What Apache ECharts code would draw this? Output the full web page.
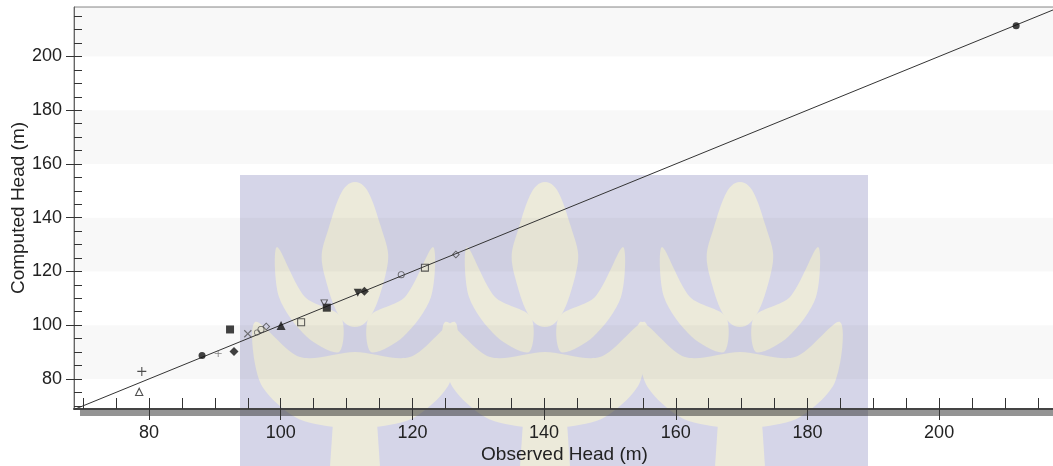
<!DOCTYPE html>
<html><head><meta charset="utf-8">
<script src="https://cdn.jsdelivr.net/npm/echarts@6/dist/echarts.min.js"></script>
<style>html,body{margin:0;padding:0;background:#fff}#c{width:1053px;height:466px}</style>
</head><body><div id="c"></div>
<script>
// ---- data ----
const observed = [78.5, 78.9, 88.05, 90.5, 92.3, 92.9, 95.0, 96.4, 97.0, 97.8, 100.05, 103.1, 107.0, 106.6, 111.7, 112.7, 118.3, 121.9, 126.6, 211.7];
const computed = [75.35, 82.8, 88.7, 89.5, 98.4, 90.2, 96.8, 97.3, 98.4, 99.5, 99.9, 101.1, 106.5, 108.1, 112.1, 112.6, 118.8, 121.4, 126.3, 211.4];
const markerKinds = ['openTriangle', 'plus', 'circle', 'plusSmall', 'square', 'diamond', 'cross', 'openCircleSmall', 'openCircle', 'openDiamond', 'triangle', 'openSquare', 'square', 'openTriangleDown', 'triangleDown', 'diamond', 'openCircle', 'openSquare', 'openDiamond', 'circle'];
const oneToOneExtent = [68.6, 217.6];
const xRange = [68.6, 217.6];
const yRange = [68.8, 218.4];
const majorTicks = [80, 100, 120, 140, 160, 180, 200];
const minorTicksX = [70, 75, 80, 85, 90, 95, 100, 105, 110, 115, 120, 125, 130, 135, 140, 145, 150, 155, 160, 165, 170, 175, 180, 185, 190, 195, 200, 205, 210, 215];
const minorTicksY = [70, 75, 80, 85, 90, 95, 100, 105, 110, 115, 120, 125, 130, 135, 140, 145, 150, 155, 160, 165, 170, 175, 180, 185, 190, 195, 200, 205, 210, 215];

// ---- marker styles ----
const P = {
  plus: 'path://M4.4,0H5.6V4.4H10V5.6H5.6V10H4.4V5.6H0V4.4H4.4Z',
  oTri: 'path://M5,0L10,10L0,10Z M5,2.8L1.9,8.9L8.1,8.9Z',
  oTriDown: 'path://M0,0H10L5,10Z M1.9,1.1L5,7.2L8.1,1.1Z',
  oSq: 'path://M0,0H10V10H0Z M1.3,1.3V8.7H8.7V1.3Z',
  oDia: 'path://M5,0L10,5L5,10L0,5Z M5,1.7L1.7,5L5,8.3L8.3,5Z',
  oCir: 'path://M5,0A5,5 0 1 1 5,10A5,5 0 1 1 5,0Z M5,1.3A3.7,3.7 0 1 0 5,8.7A3.7,3.7 0 1 0 5,1.3Z'
};
const markerStyle = {
  openTriangle: {symbol: P.oTri, size: 9, color: '#222'},
  openTriangleDown: {symbol: P.oTriDown, size: 8, color: '#333'},
  plus: {symbol: P.plus, size: 9, color: '#222'},
  plusSmall: {symbol: P.plus, size: 7, color: '#666'},
  cross: {symbol: P.plus, size: 10, color: '#555', rotate: 45},
  circle: {symbol: 'circle', size: 7, color: '#111'},
  square: {symbol: 'rect', size: 8, color: '#111'},
  diamond: {symbol: 'diamond', size: 9, color: '#111'},
  triangle: {symbol: 'triangle', size: 9, color: '#111'},
  triangleDown: {symbol: 'triangle', size: 8, color: '#111', rotate: 180},
  openSquare: {symbol: P.oSq, size: 8, color: '#333'},
  openDiamond: {symbol: P.oDia, size: 8, color: '#444'},
  openCircle: {symbol: P.oCir, size: 7, color: '#444'},
  openCircleSmall: {symbol: P.oCir, size: 6, color: '#555'}
};

const points = observed.map((x, i) => {
  const s = markerStyle[markerKinds[i]];
  return {value: [x, computed[i]], symbol: s.symbol, symbolSize: s.size, symbolRotate: s.rotate || 0, itemStyle: {color: s.color}};
});

const FONT = 'Liberation Sans, Arial, sans-serif';
const gridRect = {left: 74, right: -2, top: 7, bottom: 57, containLabel: false, outerBoundsMode: 'none'};

// watermark (decoration only)
const treeParts = [
  {pts: [[0,0],[26,45],[30,95],[0,145],[-30,95],[-26,45]], smooth: 0.5},
  {pts: [[-14,135],[-50,115],[-78,65],[-76,115],[-48,155],[-16,170]], smooth: 0.3},
  {pts: [[14,135],[50,115],[78,65],[76,115],[48,155],[16,170]], smooth: 0.3},
  {pts: [[0,170],[-55,175],[-100,140],[-95,200],[-60,235],[-20,245],[20,245],[60,235],[95,200],[100,140],[55,175]], smooth: 0.3},
  {pts: [[-22,240],[22,240],[26,300],[-26,300]], smooth: 0}
];
const treeCenters = [355, 545, 740];
const graphics = [
  {type: 'rect', shape: {x: 240, y: 175, width: 628, height: 291}, style: {fill: '#d5d5e8'}, z: -10, silent: true}
];
treeCenters.forEach(cx => treeParts.forEach(p => graphics.push({
  type: 'polygon', x: cx, y: 182, shape: {points: p.pts, smooth: p.smooth},
  style: {fill: '#eceada'}, z: -9, silent: true})));
graphics.push({type: 'rect', shape: {x: 80, y: 410, width: 1000, height: 6}, style: {fill: 'rgba(50,50,50,0.52)'}, z: -8, silent: true});

const chart = echarts.init(document.getElementById('c'), null, {renderer: 'canvas'});
chart.setOption({
  backgroundColor: '#ffffff',
  animation: false,
  graphic: {elements: graphics},
  grid: [
    Object.assign({show: true, borderColor: '#888', borderWidth: 1, backgroundColor: 'transparent'}, gridRect),
    Object.assign({}, gridRect),
    Object.assign({}, gridRect)
  ],
  xAxis: [
    {gridIndex: 0, type: 'value', min: xRange[0], max: xRange[1], splitNumber: 7,
     axisLine: {show: true, onZero: false, lineStyle: {color: '#444', width: 2}},
     axisTick: {show: false},
     axisLabel: {customValues: majorTicks, fontSize: 18, fontFamily: FONT, color: '#222', margin: 15},
     splitLine: {show: false},
     name: 'Observed Head (m)', nameLocation: 'middle', nameGap: 36, nameMoveOverlap: false,
     nameTextStyle: {fontSize: 19, fontFamily: FONT, color: '#222'}},
    {gridIndex: 1, type: 'value', min: xRange[0], max: xRange[1],
     axisLine: {show: false, onZero: false},
     axisTick: {show: true, inside: false, length: 11, customValues: majorTicks, lineStyle: {color: '#333', width: 1}},
     axisLabel: {show: false}, splitLine: {show: false}},
    {gridIndex: 2, type: 'value', min: xRange[0], max: xRange[1],
     axisLine: {show: false, onZero: false},
     axisTick: {show: true, inside: true, length: 11, customValues: minorTicksX, lineStyle: {color: '#333', width: 1}},
     axisLabel: {show: false}, splitLine: {show: false}}
  ],
  yAxis: [
    {gridIndex: 0, type: 'value', min: yRange[0], max: yRange[1], splitNumber: 7,
     axisLine: {show: true, onZero: false, lineStyle: {color: '#666', width: 1}},
     axisTick: {show: false},
     axisLabel: {customValues: majorTicks, fontSize: 18, fontFamily: FONT, color: '#222', margin: 12},
     splitLine: {show: false},
     splitArea: {show: true, areaStyle: {color: ['rgba(255,255,255,0)', 'rgba(0,0,0,0.028)']}},
     name: 'Computed Head (m)', nameLocation: 'middle', nameGap: 46, nameMoveOverlap: false,
     nameTextStyle: {fontSize: 19, fontFamily: FONT, color: '#222'}},
    {gridIndex: 1, type: 'value', min: yRange[0], max: yRange[1],
     axisLine: {show: false, onZero: false},
     axisTick: {show: true, inside: false, length: 8, customValues: majorTicks, lineStyle: {color: '#333', width: 1}},
     axisLabel: {show: false}, splitLine: {show: false}},
    {gridIndex: 2, type: 'value', min: yRange[0], max: yRange[1],
     axisLine: {show: false, onZero: false},
     axisTick: {show: true, inside: true, length: 8, customValues: minorTicksY, lineStyle: {color: '#333', width: 1}},
     axisLabel: {show: false}, splitLine: {show: false}}
  ],
  series: [
    {type: 'line', xAxisIndex: 0, yAxisIndex: 0, data: oneToOneExtent.map(v => [v, v]),
     showSymbol: false, symbol: 'none', clip: true, lineStyle: {color: '#333', width: 1}, z: 2},
    {type: 'scatter', xAxisIndex: 0, yAxisIndex: 0, data: points, z: 3}
  ]
});
</script></body></html>
